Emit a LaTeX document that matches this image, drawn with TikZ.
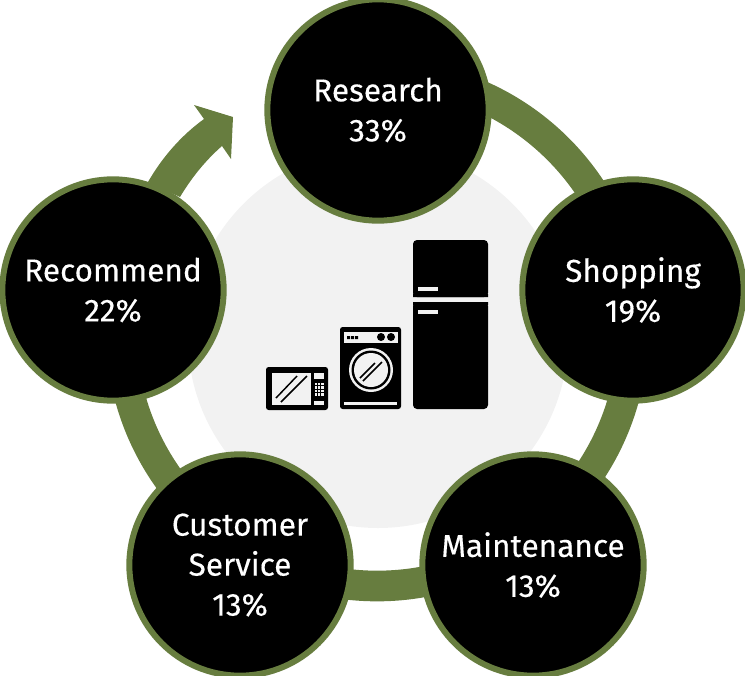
\documentclass[tikz,border=0pt]{standalone}
\usepackage{fontspec}
\setmainfont{Fira Sans}
\definecolor{leaf}{HTML}{677D3F}
\definecolor{disc}{HTML}{F2F2F2}
\tikzset{
  x=0.75pt,y=-0.75pt,
  stage/.style={circle,draw=leaf,line width=4.5pt,fill=black,text=white,minimum size=166pt,inner sep=0pt,align=center,font=\fontsize{23.7}{30}\selectfont\addfontfeature{FakeBold=0.3}},
  ringline/.style={draw=leaf,line width=23pt},
}
\begin{document}
\begin{tikzpicture}
\useasboundingbox (0,0) rectangle (745,675);
\coordinate (c) at (377,330);
\fill[disc] (378,338) circle[radius=190];
% ring
\draw[ringline] (c) ++(-90:256) arc[start angle=-90,end angle=189,radius=256];
% arrow
\fill[leaf] (148,182) .. controls (163,156) and (182,135) .. (204,119) -- (194,105) -- (233,117) -- (231,159) -- (222,146) .. controls (206,160) and (192,177) .. (180,197) -- cycle;
% stages
\node[stage] (research) at (378,110) {Research\\33\%};
\node[stage] (shopping) at (633,290) {Shopping\\19\%};
\node[stage] (maintenance) at (533,565) {Maintenance\\13\%};
\node[stage] (service) at (240,565) {Customer\\Service\\13\%};
\node[stage] (recommend) at (113,290) {Recommend\\22\%};
% fridge
\fill[black,rounded corners=3pt] (413,297) -- (413,240) -- (488,240) -- (488,297) -- cycle;
\fill[black,rounded corners=3pt] (413,302) -- (488,302) -- (488,409) -- (413,409) -- cycle;
\fill[black] (413,294) rectangle (488,297) (413,302) rectangle (488,305);
\fill[disc] (418,287) rectangle (438,291);
\fill[disc] (418,310) rectangle (438,314);
% washer
\fill[black,rounded corners=2pt] (340,327) rectangle (401,409);
\fill[disc] (344,332) rectangle (398,343);
\fill[black] (347,336) rectangle (350,339) (351,336) rectangle (354,339) (355,336) rectangle (358,339);
\fill[black] (381,337) circle[radius=4] (391,337) circle[radius=4];
\fill[disc] (371,370) circle[radius=22];
\fill[black] (371,370) circle[radius=19.5];
\fill[disc] (371,370) circle[radius=17];
\draw[black,line width=1.2pt] (360,378) -- (375,363) (363,381) -- (382,362);
\fill[disc] (344,402) rectangle (397,405);
% microwave
\fill[black,rounded corners=2pt] (266,367) rectangle (328,410);
\fill[disc] (272,373) rectangle (311,405);
\draw[black,line width=1.1pt] (276,398) -- (297,376) (281,402) -- (307,376);
\fill[disc] (314,373) rectangle (324,379);
\foreach \i in {0,1,2} \foreach \j in {0,1,2,3}
  \fill[disc] (314.5+\i*3.3,382.5+\j*3.5) rectangle +(2.6,2.8);
\fill[disc] (314,401) rectangle (324,405);
\end{tikzpicture}
\end{document}
